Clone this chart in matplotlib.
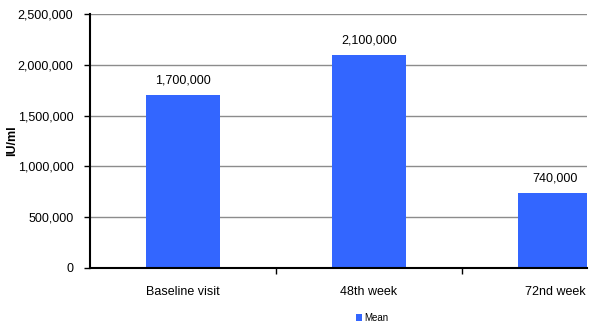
import numpy as np
import matplotlib
matplotlib.use("Agg")
import matplotlib.pyplot as plt
from matplotlib.ticker import FuncFormatter

categories = ["Baseline visit", "48th week", "72nd week"]
mean_values = [1700000, 2100000, 740000]
value_labels = ["1,700,000", "2,100,000", "740,000"]

W, H = 600, 327
plt.rcParams["font.family"] = ["Liberation Sans", "DejaVu Sans"]

fig = plt.figure(figsize=(W / 100, H / 100), dpi=100)
left, right, top, bottom = 90, 587, 14, 268
ax = fig.add_axes([left / W, 1 - bottom / H, (right - left) / W, (bottom - top) / H])

blue = "#3366FF"
x = np.arange(len(categories))
bars = ax.bar(x, mean_values, width=0.4, color=blue, zorder=2, label="Mean")

for xi, v, lab in zip(x, mean_values, value_labels):
    ax.annotate(lab, (xi, v), xytext=(0, 6), textcoords="offset points",
                ha="center", va="bottom", fontsize=9, clip_on=False)

ax.set_xlim(-0.5, -0.5 + (right - left) / 186)
ax.set_ylim(0, 2500000)
ax.set_yticks(np.arange(0, 2500001, 500000))
ax.yaxis.set_major_formatter(FuncFormatter(lambda v, p: f"{int(v):,}"))
ax.grid(axis="y", color="#8c8c8c", linewidth=1, zorder=0)

ax.set_xticks([0.5, 1.5])
ax.set_xticklabels([])
ax.set_xticks(x, minor=True)
ax.set_xticklabels(categories, minor=True)
ax.tick_params(axis="x", which="minor", length=0, pad=13, labelsize=9)
ax.tick_params(axis="x", which="major", length=4, width=1, direction="out")
ax.tick_params(axis="y", length=4, width=1, direction="out", pad=8, labelsize=9)

for s in ["top", "right"]:
    ax.spines[s].set_visible(False)
ax.spines["left"].set_linewidth(1.5)
ax.spines["bottom"].set_linewidth(1.5)

ax.set_ylabel("IU/ml", fontsize=9, fontweight="bold")
ax.yaxis.set_label_coords(-72 / (right - left), 0.5)

fig.legend(handles=[bars], labels=["Mean"], loc="center", bbox_to_anchor=(372 / W, 1 - 318 / H),
           frameon=False, fontsize=7, handlelength=0.7, handleheight=0.7, handletextpad=0.2)

fig.savefig("out.png", dpi=100, facecolor="white")
